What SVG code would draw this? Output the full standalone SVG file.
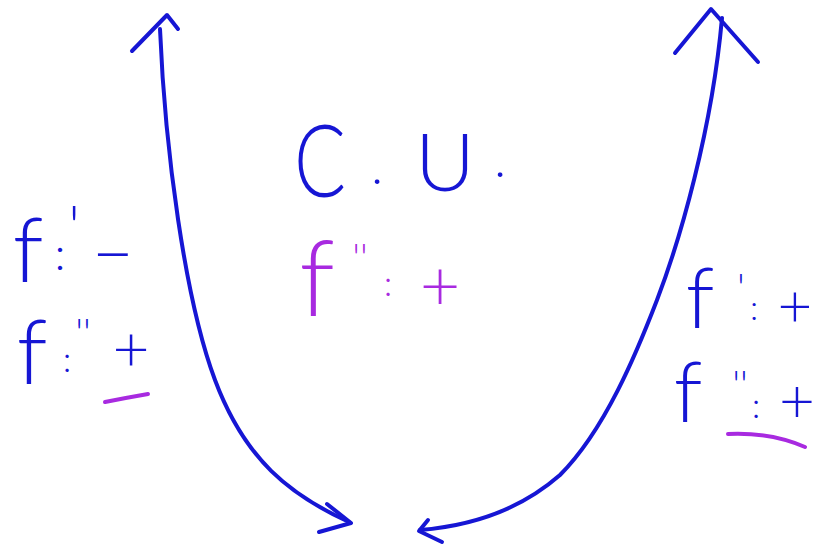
<svg xmlns="http://www.w3.org/2000/svg" width="816" height="546" viewBox="0 0 816 546">
<style>
.ink{fill:none;stroke:#1616d4;stroke-width:4;stroke-linecap:round;stroke-linejoin:round}
.mink{fill:none;stroke:#a82ae0;stroke-width:4;stroke-linecap:round;stroke-linejoin:round}
.b{fill:#1616d4;font-family:"Lato","Liberation Sans",sans-serif;font-weight:300;text-anchor:middle}
.m{fill:#a82ae0;font-family:"Lato","Liberation Sans",sans-serif;font-weight:300;text-anchor:middle}
</style>
<rect width="816" height="546" fill="#ffffff"/>
<g id="connectors">
  <path class="ink" d="M160,29 C165,150 185,300 215,380 C245,460 290,495 349,522"/>
  <path class="ink" d="M132,51 L167,15 L178,29"/>
  <path class="ink" d="M327,504 L351,523 L319,532"/>
  <path class="ink" d="M722,18 C712,130 680,240 657,300 C637,352 605,430 560,475 C520,510 470,526 420,530"/>
  <path class="ink" d="M675,53 L711,9 L758,62"/>
  <path class="ink" d="M428,520 L419,531 L442,542"/>
</g>
<g id="label-cu">
  <text class="b" x="320" y="197" font-size="100" textLength="52" lengthAdjust="spacingAndGlyphs">C</text>
  <text class="b" x="377" y="184" font-size="50">.</text>
  <text class="b" x="445" y="191" font-size="80" textLength="60" lengthAdjust="spacingAndGlyphs">U</text>
  <text class="b" x="500" y="177" font-size="50">.</text>
</g>
<g id="label-center-f2">
  <text class="m" x="317" y="316" font-size="104">f</text>
  <text class="m" x="360" y="272" font-size="40">''</text>
  <text class="m" x="388" y="296" font-size="36">:</text>
  <text class="m" x="440" y="311" font-size="70">+</text>
</g>
<g id="label-left-f1">
  <text class="b" x="28" y="282" font-size="90">f</text>
  <text class="b" x="74" y="248" font-size="60">'</text>
  <text class="b" x="60" y="270" font-size="46">:</text>
  <text class="b" x="113" y="279" font-size="72">−</text>
</g>
<g id="label-left-f2">
  <text class="b" x="32" y="384" font-size="90">f</text>
  <text class="b" x="83" y="347" font-size="40">''</text>
  <text class="b" x="67" y="372" font-size="36">:</text>
  <text class="b" x="131" y="371" font-size="64">+</text>
  <path class="mink" d="M105,402 Q125,398 148,394"/>
</g>
<g id="label-right-f1">
  <text class="b" x="700" y="328" font-size="84">f</text>
  <text class="b" x="741" y="302" font-size="40">'</text>
  <text class="b" x="754" y="320" font-size="34">:</text>
  <text class="b" x="795" y="327" font-size="60">+</text>
</g>
<g id="label-right-f2">
  <text class="b" x="688" y="422" font-size="84">f</text>
  <text class="b" x="740" y="399" font-size="40">''</text>
  <text class="b" x="756" y="418" font-size="36">:</text>
  <text class="b" x="797" y="422" font-size="62">+</text>
  <path class="mink" d="M728,434 Q770,432 805,447"/>
</g>
</svg>
